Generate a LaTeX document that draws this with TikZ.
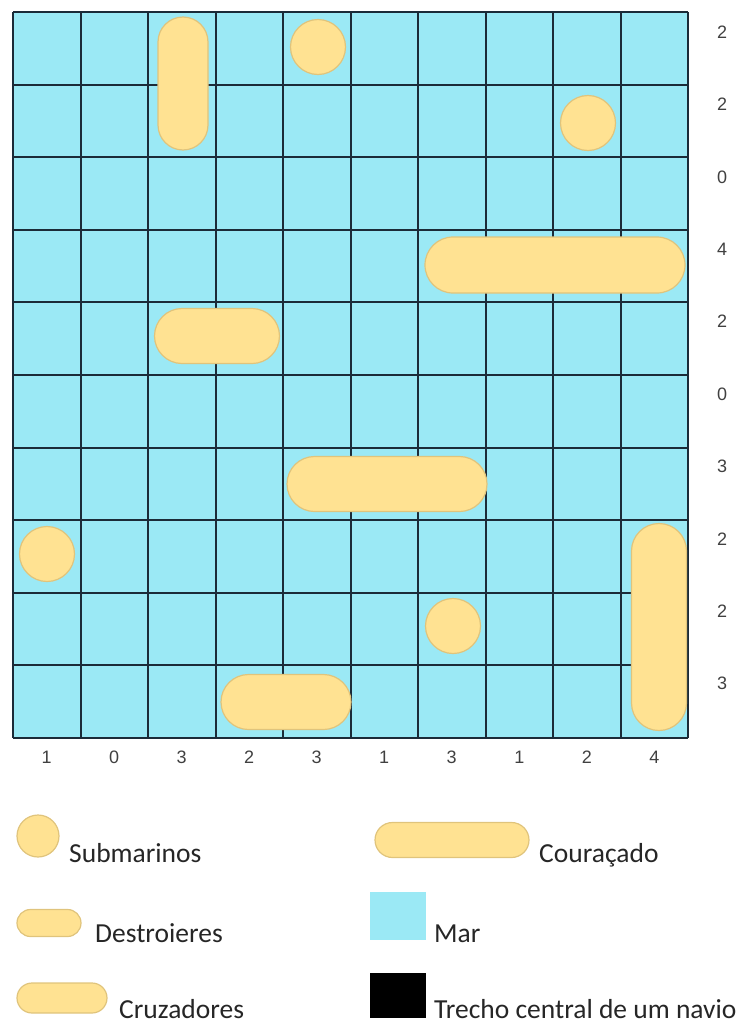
\documentclass[tikz,border=0pt]{standalone}
\usepackage{fontspec}
\setmainfont{Carlito}
\newfontfamily\numfont{Liberation Sans}
\usetikzlibrary{shapes.misc,positioning}

\definecolor{sea}{HTML}{9BE9F5}
\definecolor{shipfill}{HTML}{FFE292}
\definecolor{shipedge}{HTML}{E0C47C}
\definecolor{gridline}{HTML}{1B2B38}

\begin{document}
\begin{tikzpicture}[
    x=1pt, y=-1pt,
    gridline/.style={draw=gridline, line width=2pt},
    ship/.style={rounded rectangle, draw=shipedge, line width=1.2pt, fill=shipfill, inner sep=0pt, outer sep=0pt},
    sub/.style={circle, draw=shipedge, line width=1.2pt, fill=shipfill, inner sep=0pt, minimum size=55},
    hint/.style={font=\numfont\fontsize{18}{21}\selectfont, text=black!75},
    legendtext/.style={font=\fontsize{27.5}{32}\selectfont, text=black!85, anchor=base west, inner sep=0pt}
]
\useasboundingbox (0,0) rectangle (744,1023);

% Sea and grid
\fill[sea] (13,12) rectangle (688,738);
\foreach \i in {0,...,10} {
    \draw[gridline] ({13+67.5*\i},12) -- ({13+67.5*\i},738);
    \draw[gridline] (13,{12+72.6*\i}) -- (688,{12+72.6*\i});
}

% Row and column counts
\foreach \n [count=\i from 0] in {2,2,0,4,2,0,3,2,2,3}
    \node[hint] (row\i) at (722,{32+72.4*\i}) {\n};
\foreach \n [count=\j from 0] in {1,0,3,2,3,1,3,1,2,4}
    \node[hint] (col\j) at ({46.75+67.5*\j},757) {\n};

% Ships on the board
\node[ship, rotate=90, minimum width=133, minimum height=50] (destroyerA) at (183,83.5) {};
\node[sub] (subA) at (318,47) {};
\node[sub] (subB) at (588,123) {};
\node[ship, minimum width=260, minimum height=56] (battleship) at (555,265) {};
\node[ship, minimum width=125, minimum height=55] (destroyerB) at (217,336) {};
\node[ship, minimum width=200, minimum height=55] (cruiserA) at (387,484) {};
\node[sub] (subC) at (47,554) {};
\node[ship, rotate=90, minimum width=207, minimum height=55] (cruiserB) at (659,627) {};
\node[sub] (subD) at (453,626) {};
\node[ship, minimum width=130, minimum height=55] (destroyerC) at (286,702) {};

% Legend
\node[sub, minimum size=42] (keySub) at (38,836) {};
\node[legendtext] (keySubLabel) at (69,862) {Submarinos};

\node[ship, minimum width=154, minimum height=35] (keyBattleship) at (452,840) {};
\node[legendtext] (keyBattleshipLabel) at (539,862) {Couraçado};

\node[ship, minimum width=64, minimum height=27] (keyDestroyer) at (49,923) {};
\node[legendtext] (keyDestroyerLabel) at (95,942) {Destroieres};

\node[fill=sea, minimum width=56, minimum height=48, inner sep=0pt] (keySea) at (398,916) {};
\node[legendtext] (keySeaLabel) at (434,942) {Mar};

\node[ship, minimum width=90, minimum height=30] (keyCruiser) at (62,998) {};
\node[legendtext] (keyCruiserLabel) at (119,1018) {Cruzadores};

\node[fill=black, minimum width=56, minimum height=45, inner sep=0pt] (keyCentre) at (398,995.5) {};
\node[legendtext] (keyCentreLabel) at (434,1018) {Trecho central de um navio};

\end{tikzpicture}
\end{document}
